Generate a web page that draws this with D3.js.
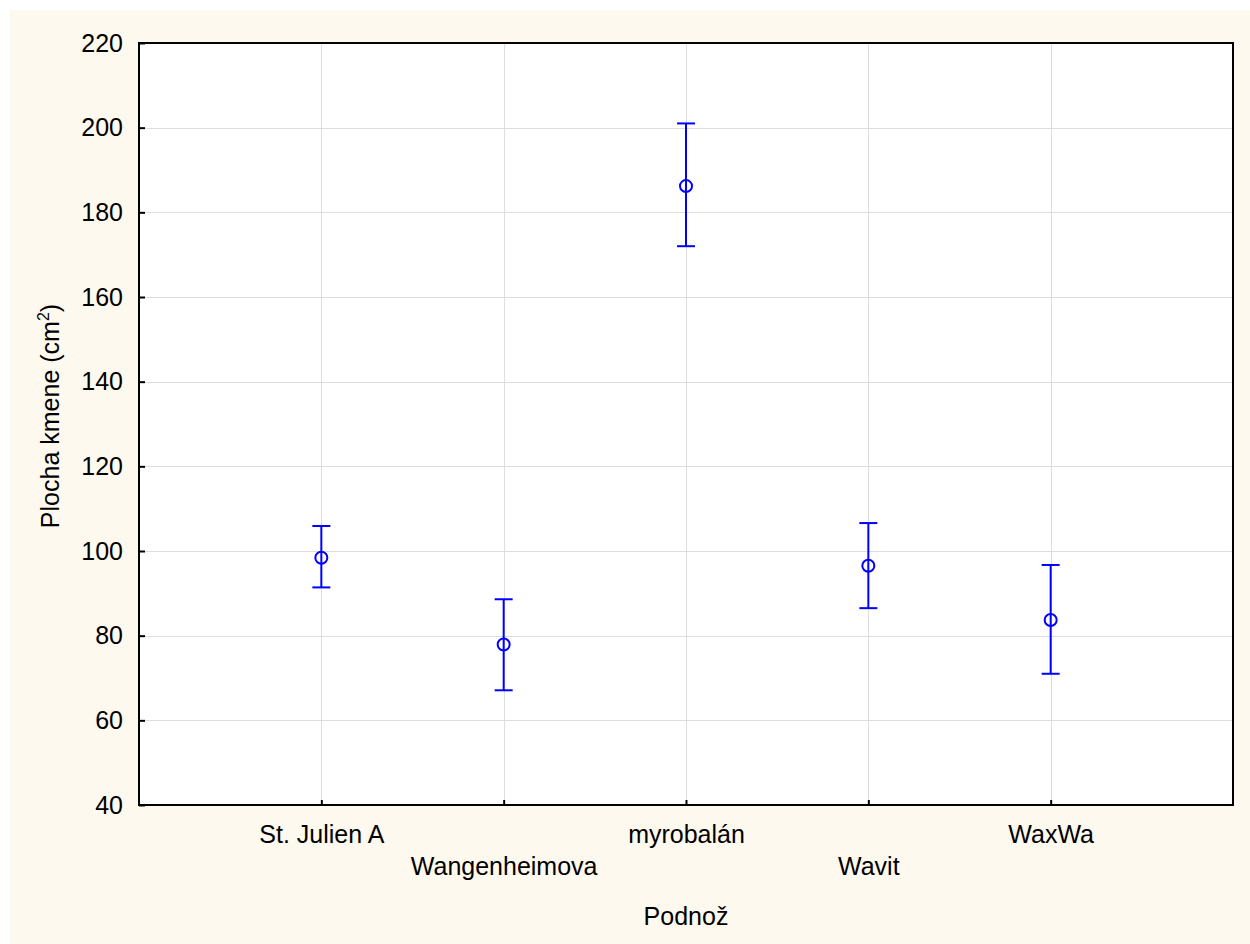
<!DOCTYPE html>
<html>
<head>
<meta charset="utf-8">
<script src="https://cdn.jsdelivr.net/npm/d3@7"></script>
<style>
  html, body { margin: 0; padding: 0; background: #ffffff; }
  svg { display: block; }
  text { font-family: "Liberation Sans", Arial, sans-serif; fill: #000; }
</style>
</head>
<body>
<svg id="chart" width="1250" height="944"></svg>
<script>
// Rootstocks and the mean trunk area with its interval bounds
const categories = ["St. Julien A", "Wangenheimova", "myrobalán", "Wavit", "WaxWa"];
const means = [98.4, 77.9, 186.2, 96.5, 83.7];
const upper = [105.9, 88.6, 201.0, 106.6, 96.7];
const lower = [91.4, 67.1, 172.0, 86.5, 71.0];
const yTicks = [40, 60, 80, 100, 120, 140, 160, 180, 200, 220];

const W = 1250, H = 944;
const plot = { left: 139, top: 43, right: 1233, bottom: 805 };
const FONT = 25;

const svg = d3.select("#chart");

// page background
svg.append("rect").attr("x", 10).attr("y", 10).attr("width", W - 10).attr("height", H - 10)
  .attr("fill", "#fdf9ef");

// plot area
svg.append("rect")
  .attr("x", plot.left).attr("y", plot.top)
  .attr("width", plot.right - plot.left).attr("height", plot.bottom - plot.top)
  .attr("fill", "#ffffff");

const x = d3.scaleLinear().domain([0, categories.length + 1]).range([plot.left, plot.right]);
const y = d3.scaleLinear().domain([40, 220]).range([plot.bottom, plot.top]);

// grid
const grid = svg.append("g").attr("stroke", "#dddddd").attr("stroke-width", 1);
grid.selectAll("line.h").data(yTicks.slice(1, -1)).join("line")
  .attr("x1", plot.left).attr("x2", plot.right)
  .attr("y1", d => Math.round(y(d)) + 0.5).attr("y2", d => Math.round(y(d)) + 0.5);
grid.selectAll("line.v").data(categories).join("line")
  .attr("x1", (d, i) => Math.round(x(i + 1)) + 0.5).attr("x2", (d, i) => Math.round(x(i + 1)) + 0.5)
  .attr("y1", plot.top).attr("y2", plot.bottom);

// y axis (ticks inside the frame)
const yAxis = d3.axisLeft(y).tickValues(yTicks).tickSize(-6).tickPadding(16).tickFormat(d3.format("d"));
const gy = svg.append("g").attr("transform", `translate(${plot.left},0)`).call(yAxis);
gy.select(".domain").remove();
gy.selectAll(".tick line").attr("stroke", "#000").attr("stroke-width", 2);
gy.selectAll(".tick text").attr("font-size", FONT).attr("font-family", "Liberation Sans, Arial, sans-serif")
  .attr("fill", "#000");

// x axis (ticks inside the frame), labels staggered on two rows
const xAxis = d3.axisBottom(x).tickValues(d3.range(1, categories.length + 1)).tickSize(-5)
  .tickFormat(d => categories[d - 1]);
const gx = svg.append("g").attr("transform", `translate(0,${plot.bottom})`).call(xAxis);
gx.select(".domain").remove();
gx.selectAll(".tick line").attr("stroke", "#000").attr("stroke-width", 2);
gx.selectAll(".tick text")
  .attr("font-size", FONT).attr("font-family", "Liberation Sans, Arial, sans-serif").attr("fill", "#000")
  .attr("dy", null)
  .attr("y", d => (d % 2 === 1) ? 38 : 70);

// frame
svg.append("rect")
  .attr("x", plot.left).attr("y", plot.top)
  .attr("width", plot.right - plot.left).attr("height", plot.bottom - plot.top)
  .attr("fill", "none").attr("stroke", "#000").attr("stroke-width", 2);

// axis titles
svg.append("text")
  .attr("x", (plot.left + plot.right) / 2).attr("y", 925)
  .attr("text-anchor", "middle").attr("font-size", FONT)
  .text("Podnož");

const yt = svg.append("text")
  .attr("transform", `translate(59,${(plot.top + plot.bottom) / 2 - 8}) rotate(-90)`)
  .attr("text-anchor", "middle").attr("font-size", FONT);
yt.append("tspan").text("Plocha kmene (cm");
yt.append("tspan").attr("font-size", 16).attr("dy", -10).text("2");
yt.append("tspan").attr("dy", 10).text(")");

// error bars with mean markers (the whisker runs through the open circle)
const marks = svg.append("g").attr("stroke", "#0000ff").attr("stroke-width", 2).attr("fill", "none");
const capHalf = 9;
categories.forEach((c, i) => {
  const cx = x(i + 1);
  marks.append("line").attr("x1", cx).attr("x2", cx).attr("y1", y(upper[i])).attr("y2", y(lower[i]));
  marks.append("line").attr("x1", cx - capHalf).attr("x2", cx + capHalf).attr("y1", y(upper[i])).attr("y2", y(upper[i]));
  marks.append("line").attr("x1", cx - capHalf).attr("x2", cx + capHalf).attr("y1", y(lower[i])).attr("y2", y(lower[i]));
  marks.append("circle").attr("cx", cx).attr("cy", y(means[i])).attr("r", 6).attr("fill", "none");
});
</script>
</body>
</html>
